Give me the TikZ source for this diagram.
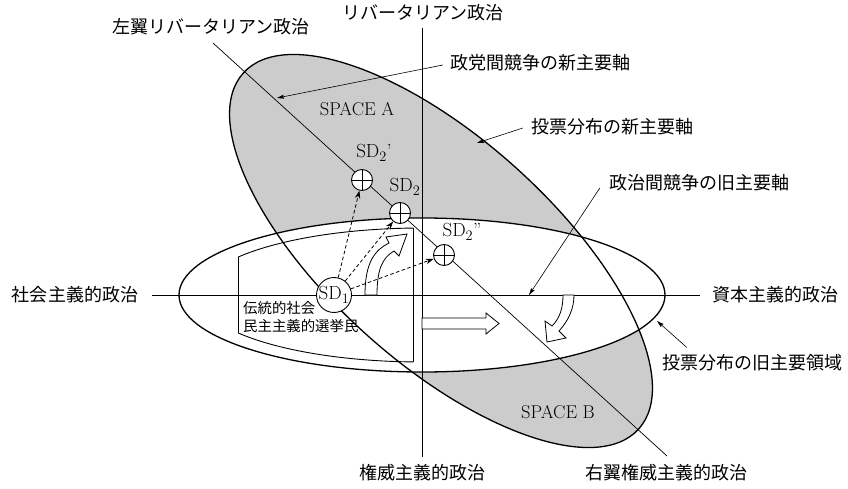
\documentclass[tikz,border=0pt]{standalone}
\usepackage{fontspec}
\newfontfamily\jp{Noto Sans CJK JP}
\usetikzlibrary{arrows.meta,calc}
\definecolor{shadegray}{HTML}{CCCCCC}
\begin{document}
\begin{tikzpicture}[x=1pt,y=-1pt,
  outline/.style={line width=1.3pt},
  axisline/.style={line width=0.9pt},
  diagline/.style={line width=0.7pt},
  hollow/.style={line width=0.8pt, fill=white, line join=miter},
  jlab/.style={font=\jp\fontsize{18}{20}\selectfont, inner sep=1pt},
  jsmall/.style={font=\jp\fontsize{14.4}{18}\selectfont, align=left, inner sep=0pt, anchor=north west},
  sdlab/.style={font=\fontsize{19}{22}\selectfont, inner sep=0pt},
  spacelab/.style={font=\fontsize{18.5}{20}\selectfont, inner sep=0pt},
  oplus/.style={circle, draw, line width=0.9pt, minimum size=21pt, inner sep=0pt, fill=white,
    path picture={\draw[line width=0.8pt] (path picture bounding box.north) -- (path picture bounding box.south)
      (path picture bounding box.west) -- (path picture bounding box.east);}},
  sdone/.style={circle, draw, line width=0.9pt, minimum size=35pt, inner sep=0pt, fill=white, font=\fontsize{19}{22}\selectfont},
  dasharrow/.style={line width=0.8pt, dash pattern=on 3.5pt off 2.5pt, -{Stealth[length=8pt,width=5.5pt]}},
  labarrow/.style={line width=0.6pt, -{Stealth[length=7pt,width=4pt,inset=1pt]}}
]
\useasboundingbox (0,0) rectangle (848,489);

% gray rotated ellipse (fill) and white ellipse (fill)
\fill[shadegray, rotate around={-42:(441,251)}] (441,251) ellipse [x radius=266, y radius=112];
\fill[white] (422,295) ellipse [x radius=243, y radius=77];
% outlines
\draw[outline, rotate around={-42:(441,251)}] (441,251) ellipse [x radius=266, y radius=112];
\draw[outline] (422,295) ellipse [x radius=243, y radius=77];

% inner region of traditional social-democratic voters
\begin{scope}
  \clip (238,0) rectangle (413,489);
  \draw[axisline] (422,295) ellipse [x radius=223, y radius=67];
\end{scope}
\draw[axisline] (238,257) -- (238,333);
\draw[axisline] (413,228) -- (413,362);

% axes
\coordinate (hL) at (152,295);
\coordinate (hR) at (700,295);
\coordinate (vT) at (422,28);
\coordinate (vB) at (422,457);
\coordinate (dT) at (213,43);
\coordinate (dB) at (667,456);
\draw[axisline] (hL) -- (hR);
\draw[axisline] (vT) -- (vB);
\draw[diagline] (dT) -- (dB);

% hollow arrows
\draw[hollow] (365,295) .. controls (365,262) and (375,250) .. (389,243) -- (386,237) -- (407,234)
  -- (399,256) -- (394,251) .. controls (382,258) and (377,270) .. (377,295) -- cycle;
\draw[hollow] (422,318) -- (486,318) -- (486,313) -- (499,323.5) -- (486,334) -- (486,329) -- (422,329) -- cycle;
\draw[hollow] (563,295) .. controls (563,308) and (560,318) .. (552,326) -- (545,321) -- (547,342)
  -- (566,338) -- (559,331) .. controls (569,320) and (574,308) .. (574,295) -- cycle;

% SD nodes
\node[sdone] (sd1) at (334,295) {SD$_1$};
\node[oplus] (sd2p) at (362,180) {};
\node[oplus] (sd2) at (400,213) {};
\node[oplus] (sd2pp) at (444,255) {};
\node[sdlab] at (374,153) {SD$_2$’};
\node[sdlab] at (405,187) {SD$_2$};
\node[sdlab] at (462,232) {SD$_2$”};

\draw[dasharrow] (sd1) -- (sd2p);
\draw[dasharrow] (sd1) -- (sd2);
\draw[dasharrow] (sd1) -- (sd2pp);

% region labels
\node[spacelab] (spA) at (357,109) {SPACE A};
\node[spacelab] (spB) at (558,412) {SPACE B};
\node[jsmall] (trad) at (243,301) {伝統的社会\\民主主義的選挙民};

% axis labels
\node[jlab] (lib) at (423,13) {リバータリアン政治};
\node[jlab] (leftlib) at (211,27) {左翼リバータリアン政治};
\node[jlab] (soc) at (75,295) {社会主義的政治};
\node[jlab] (cap) at (775,295) {資本主義的政治};
\node[jlab] (auth) at (422,473) {権威主義的政治};
\node[jlab] (rightauth) at (666,473) {右翼権威主義的政治};

% annotated labels with arrows
\node[jlab] (lblA) at (540,63) {政党間競争の新主要軸};
\node[jlab] (lblB) at (612,127) {投票分布の新主要軸};
\node[jlab] (lblC) at (699,183) {政治間競争の旧主要軸};
\node[jlab] (lblD) at (752,363) {投票分布の旧主要領域};
\coordinate (tA) at (277,98);
\coordinate (tB) at (477,143);
\coordinate (tC) at (529,295);
\coordinate (tD) at (657,321);
\draw[labarrow] ($(lblA.west)+(-6,2)$) -- (tA);
\draw[labarrow] ($(lblB.west)+(-7,1)$) -- (tB);
\draw[labarrow] ($(lblC.west)+(-8,5)$) -- (tC);
\draw[labarrow] ($(lblD.north west)+(26,-6)$) -- (tD);
\end{tikzpicture}
\end{document}
